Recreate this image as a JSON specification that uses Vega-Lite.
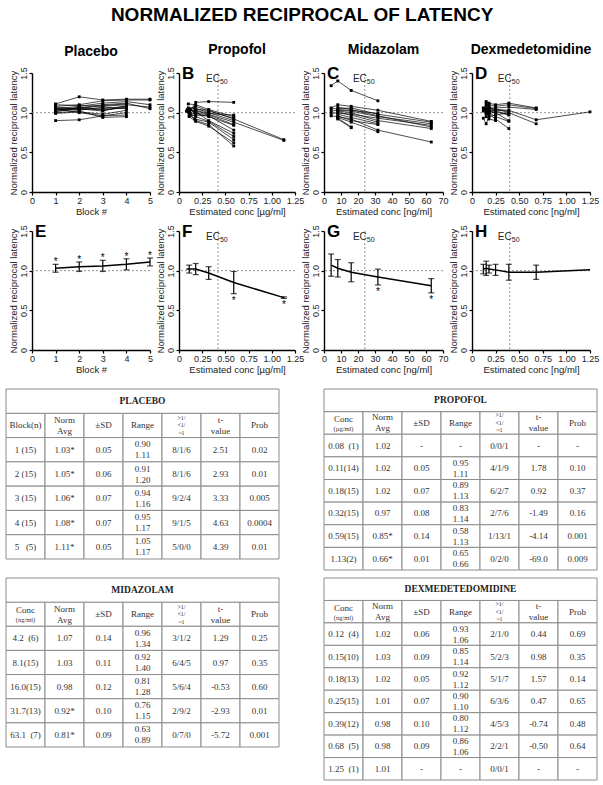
{
"$schema":"https://vega.github.io/schema/vega-lite/v6.json",
"padding":{"left":5,"top":6,"right":4,"bottom":4},
"title":{"text":"NORMALIZED RECIPROCAL OF LATENCY","fontSize":19,"offset":18,"anchor":"middle","frame":"bounds"},
"spacing":14,
"datasets":{
"pla":[
{"s":1,"x":1,"y":0.90},{"s":1,"x":2,"y":0.91},{"s":1,"x":3,"y":0.96},{"s":1,"x":4,"y":0.97},
{"s":2,"x":1,"y":1.11},{"s":2,"x":2,"y":1.20},{"s":2,"x":3,"y":1.16},{"s":2,"x":4,"y":1.17},{"s":2,"x":5,"y":1.17},
{"s":3,"x":1,"y":1.08},{"s":3,"x":2,"y":1.10},{"s":3,"x":3,"y":1.15},{"s":3,"x":4,"y":1.16},{"s":3,"x":5,"y":1.16},
{"s":4,"x":1,"y":1.05},{"s":4,"x":2,"y":1.08},{"s":4,"x":3,"y":1.12},{"s":4,"x":4,"y":1.14},{"s":4,"x":5,"y":1.10},
{"s":5,"x":1,"y":1.03},{"s":5,"x":2,"y":1.06},{"s":5,"x":3,"y":1.10},{"s":5,"x":4,"y":1.12},{"s":5,"x":5,"y":1.05},
{"s":6,"x":1,"y":1.10},{"s":6,"x":2,"y":1.09},{"s":6,"x":3,"y":1.08},{"s":6,"x":4,"y":1.10},{"s":6,"x":5,"y":1.07},
{"s":7,"x":1,"y":1.02},{"s":7,"x":2,"y":1.04},{"s":7,"x":3,"y":1.05},{"s":7,"x":4,"y":1.08},
{"s":8,"x":1,"y":1.00},{"s":8,"x":2,"y":1.02},{"s":8,"x":3,"y":0.94},{"s":8,"x":4,"y":0.95},
{"s":9,"x":1,"y":1.06},{"s":9,"x":2,"y":1.03},{"s":9,"x":3,"y":1.07},{"s":9,"x":4,"y":1.05},
{"s":10,"x":1,"y":1.04},{"s":10,"x":2,"y":1.05},{"s":10,"x":3,"y":1.02},{"s":10,"x":4,"y":1.09},
{"s":11,"x":1,"y":1.01},{"s":11,"x":2,"y":1.07},{"s":11,"x":3,"y":1.04},{"s":11,"x":4,"y":1.06},
{"s":12,"x":1,"y":0.99},{"s":12,"x":2,"y":1.01},{"s":12,"x":3,"y":0.98},{"s":12,"x":4,"y":1.03},
{"s":13,"x":1,"y":1.07},{"s":13,"x":2,"y":1.05},{"s":13,"x":3,"y":1.09},{"s":13,"x":4,"y":1.11},
{"s":14,"x":1,"y":1.05},{"s":14,"x":2,"y":1.00},{"s":14,"x":3,"y":0.96},{"s":14,"x":4,"y":1.00},
{"s":15,"x":1,"y":1.04},{"s":15,"x":2,"y":1.06},{"s":15,"x":3,"y":1.03},{"s":15,"x":4,"y":1.07}
],
"pro":[
{"s":1,"x":0.11,"y":1.00},{"s":1,"x":0.18,"y":1.13},{"s":1,"x":0.32,"y":1.14},{"s":1,"x":0.59,"y":1.13},
{"s":2,"x":0.10,"y":1.11},{"s":2,"x":0.18,"y":1.10},{"s":2,"x":0.32,"y":1.04},{"s":2,"x":0.59,"y":0.95},
{"s":3,"x":0.12,"y":1.05},{"s":3,"x":0.18,"y":1.08},{"s":3,"x":0.32,"y":1.02},{"s":3,"x":0.59,"y":0.93},
{"s":4,"x":0.11,"y":1.03},{"s":4,"x":0.17,"y":1.06},{"s":4,"x":0.32,"y":1.00},{"s":4,"x":0.59,"y":0.90},
{"s":5,"x":0.09,"y":1.02},{"s":5,"x":0.18,"y":1.04},{"s":5,"x":0.32,"y":1.03},{"s":5,"x":0.59,"y":0.92},{"s":5,"x":1.13,"y":0.66},
{"s":6,"x":0.11,"y":1.00},{"s":6,"x":0.18,"y":1.02},{"s":6,"x":0.32,"y":0.98},{"s":6,"x":0.59,"y":0.88},{"s":6,"x":1.13,"y":0.65},
{"s":7,"x":0.12,"y":0.98},{"s":7,"x":0.17,"y":1.00},{"s":7,"x":0.32,"y":0.97},{"s":7,"x":0.59,"y":0.85},
{"s":8,"x":0.10,"y":1.06},{"s":8,"x":0.18,"y":0.99},{"s":8,"x":0.32,"y":0.95},{"s":8,"x":0.59,"y":0.84},
{"s":9,"x":0.11,"y":0.96},{"s":9,"x":0.18,"y":0.97},{"s":9,"x":0.32,"y":0.96},{"s":9,"x":0.59,"y":0.78},
{"s":10,"x":0.09,"y":1.04},{"s":10,"x":0.18,"y":1.01},{"s":10,"x":0.32,"y":0.90},{"s":10,"x":0.59,"y":0.74},
{"s":11,"x":0.12,"y":0.99},{"s":11,"x":0.18,"y":0.95},{"s":11,"x":0.32,"y":0.89},{"s":11,"x":0.59,"y":0.70},
{"s":12,"x":0.11,"y":0.97},{"s":12,"x":0.17,"y":0.92},{"s":12,"x":0.32,"y":0.88},{"s":12,"x":0.59,"y":0.66},
{"s":13,"x":0.10,"y":1.01},{"s":13,"x":0.18,"y":0.90},{"s":13,"x":0.32,"y":0.85},{"s":13,"x":0.59,"y":0.58},
{"s":14,"x":0.11,"y":0.95},{"s":14,"x":0.18,"y":0.89},{"s":14,"x":0.32,"y":0.83},{"s":14,"x":0.59,"y":0.62},
{"s":15,"x":0.08,"y":1.02},{"s":15,"x":0.18,"y":1.03},{"s":15,"x":0.32,"y":0.99},{"s":15,"x":0.59,"y":0.97}
],
"mid":[
{"s":1,"x":4.2,"y":1.34},{"s":1,"x":8.1,"y":1.40},{"s":1,"x":16.0,"y":1.28},{"s":1,"x":31.7,"y":1.15},
{"s":2,"x":4.2,"y":1.06},{"s":2,"x":8.1,"y":1.10},{"s":2,"x":16.0,"y":1.08},{"s":2,"x":31.7,"y":1.03},{"s":2,"x":63.1,"y":0.89},
{"s":3,"x":4.2,"y":1.05},{"s":3,"x":8.1,"y":1.05},{"s":3,"x":16.0,"y":1.06},{"s":3,"x":31.7,"y":0.98},{"s":3,"x":63.1,"y":0.88},
{"s":4,"x":4.2,"y":1.02},{"s":4,"x":8.1,"y":1.03},{"s":4,"x":16.0,"y":1.02},{"s":4,"x":31.7,"y":0.95},{"s":4,"x":63.1,"y":0.86},
{"s":5,"x":4.2,"y":0.99},{"s":5,"x":8.1,"y":1.00},{"s":5,"x":16.0,"y":0.98},{"s":5,"x":31.7,"y":0.93},{"s":5,"x":63.1,"y":0.84},
{"s":6,"x":4.2,"y":0.96},{"s":6,"x":8.1,"y":0.95},{"s":6,"x":16.0,"y":0.92},{"s":6,"x":31.7,"y":0.78},{"s":6,"x":63.1,"y":0.63},
{"s":7,"x":8.1,"y":1.07},{"s":7,"x":16.0,"y":1.04},{"s":7,"x":31.7,"y":0.96},{"s":7,"x":63.1,"y":0.82},
{"s":8,"x":8.1,"y":1.02},{"s":8,"x":16.0,"y":1.00},{"s":8,"x":31.7,"y":0.90},{"s":8,"x":63.1,"y":0.80},
{"s":9,"x":8.1,"y":1.00},{"s":9,"x":16.0,"y":0.97},{"s":9,"x":31.7,"y":0.88},
{"s":10,"x":8.1,"y":0.98},{"s":10,"x":16.0,"y":0.94},{"s":10,"x":31.7,"y":0.86},
{"s":11,"x":8.1,"y":0.96},{"s":11,"x":16.0,"y":0.90},{"s":11,"x":31.7,"y":0.85},
{"s":12,"x":8.1,"y":0.94},{"s":12,"x":16.0,"y":0.88},{"s":12,"x":31.7,"y":0.76},
{"s":13,"x":8.1,"y":0.93},{"s":13,"x":16.0,"y":0.82},
{"s":14,"x":8.1,"y":0.92},{"s":14,"x":16.0,"y":0.81},
{"s":15,"x":8.1,"y":1.04},{"s":15,"x":16.0,"y":1.03},{"s":15,"x":31.7,"y":0.99}
],
"dex":[
{"s":1,"x":0.15,"y":1.14},{"s":1,"x":0.18,"y":1.12},{"s":1,"x":0.25,"y":1.10},{"s":1,"x":0.39,"y":1.12},{"s":1,"x":0.68,"y":1.06},
{"s":2,"x":0.15,"y":1.08},{"s":2,"x":0.18,"y":1.10},{"s":2,"x":0.25,"y":1.08},{"s":2,"x":0.39,"y":1.10},{"s":2,"x":0.68,"y":1.05},
{"s":3,"x":0.18,"y":1.05},{"s":3,"x":0.25,"y":1.06},{"s":3,"x":0.39,"y":1.07},{"s":3,"x":0.68,"y":1.04},
{"s":4,"x":0.15,"y":1.02},{"s":4,"x":0.18,"y":1.03},{"s":4,"x":0.25,"y":1.04},{"s":4,"x":0.39,"y":1.03},{"s":4,"x":0.68,"y":0.91},{"s":4,"x":1.25,"y":1.01},
{"s":5,"x":0.12,"y":0.93},{"s":5,"x":0.15,"y":0.86},{"s":5,"x":0.18,"y":0.95},{"s":5,"x":0.25,"y":0.97},{"s":5,"x":0.39,"y":1.00},{"s":5,"x":0.68,"y":0.86},
{"s":6,"x":0.12,"y":1.06},{"s":6,"x":0.15,"y":1.05},{"s":6,"x":0.18,"y":1.00},{"s":6,"x":0.25,"y":0.95},{"s":6,"x":0.39,"y":0.89},
{"s":7,"x":0.12,"y":1.05},{"s":7,"x":0.15,"y":1.00},{"s":7,"x":0.18,"y":0.98},{"s":7,"x":0.25,"y":0.92},{"s":7,"x":0.39,"y":0.80},
{"s":8,"x":0.12,"y":1.02},{"s":8,"x":0.15,"y":1.10},{"s":8,"x":0.18,"y":1.02},{"s":8,"x":0.25,"y":1.00},{"s":8,"x":0.39,"y":0.90},
{"s":9,"x":0.15,"y":0.95},{"s":9,"x":0.18,"y":0.92},{"s":9,"x":0.25,"y":0.90},
{"s":10,"x":0.15,"y":0.98},{"s":10,"x":0.18,"y":1.04},{"s":10,"x":0.25,"y":1.02},{"s":10,"x":0.39,"y":0.98},
{"s":11,"x":0.15,"y":1.12},{"s":11,"x":0.18,"y":1.07},{"s":11,"x":0.25,"y":1.05},{"s":11,"x":0.39,"y":1.00},
{"s":12,"x":0.18,"y":1.01},{"s":12,"x":0.25,"y":1.03},{"s":12,"x":0.39,"y":1.02},
{"s":13,"x":0.15,"y":1.00},{"s":13,"x":0.18,"y":0.99},{"s":13,"x":0.25,"y":1.01},{"s":13,"x":0.39,"y":0.97},
{"s":14,"x":0.18,"y":1.08},{"s":14,"x":0.25,"y":1.00},
{"s":15,"x":0.25,"y":0.99}
],
"plaM":[
{"x":1,"m":1.03,"lo":0.98,"hi":1.08,"star":"*"},
{"x":2,"m":1.05,"lo":0.99,"hi":1.11,"star":"*"},
{"x":3,"m":1.06,"lo":0.99,"hi":1.13,"star":"*"},
{"x":4,"m":1.08,"lo":1.01,"hi":1.15,"star":"*"},
{"x":5,"m":1.11,"lo":1.06,"hi":1.16,"star":"*"}
],
"proM":[
{"x":0.08,"m":1.02,"lo":null,"hi":null,"star":""},
{"x":0.11,"m":1.02,"lo":0.97,"hi":1.07,"star":""},
{"x":0.18,"m":1.02,"lo":0.95,"hi":1.09,"star":""},
{"x":0.32,"m":0.97,"lo":0.89,"hi":1.05,"star":""},
{"x":0.59,"m":0.85,"lo":0.71,"hi":0.99,"star":"*"},
{"x":1.13,"m":0.66,"lo":0.65,"hi":0.67,"star":"*"}
],
"midM":[
{"x":4.2,"m":1.07,"lo":0.93,"hi":1.21,"star":""},
{"x":8.1,"m":1.03,"lo":0.92,"hi":1.14,"star":""},
{"x":16.0,"m":0.98,"lo":0.86,"hi":1.10,"star":""},
{"x":31.7,"m":0.92,"lo":0.82,"hi":1.02,"star":"*"},
{"x":63.1,"m":0.81,"lo":0.72,"hi":0.90,"star":"*"}
],
"dexM":[
{"x":0.12,"m":1.02,"lo":0.96,"hi":1.08,"star":""},
{"x":0.15,"m":1.03,"lo":0.94,"hi":1.12,"star":""},
{"x":0.18,"m":1.02,"lo":0.97,"hi":1.07,"star":""},
{"x":0.25,"m":1.01,"lo":0.94,"hi":1.08,"star":""},
{"x":0.39,"m":0.98,"lo":0.88,"hi":1.08,"star":""},
{"x":0.68,"m":0.98,"lo":0.89,"hi":1.07,"star":""},
{"x":1.25,"m":1.01,"lo":null,"hi":null,"star":""}
],
"tPla":[
{"r":0,"c1":"PLACEBO"},
{"r":1,"c1":"Block(n)","c2":"Norm\nAvg","c3":"±SD","c4":"Range","c5":">1/\n<1/\n~1","c6":"t-\nvalue","c7":"Prob","u":""},
{"r":2,"c1":"1 (15)","c2":"1.03*","c3":"0.05","c4":"0.90\n1.11","c5":"8/1/6","c6":"2.51","c7":"0.02"},
{"r":3,"c1":"2 (15)","c2":"1.05*","c3":"0.06","c4":"0.91\n1.20","c5":"8/1/6","c6":"2.93","c7":"0.01"},
{"r":4,"c1":"3 (15)","c2":"1.06*","c3":"0.07","c4":"0.94\n1.16","c5":"9/2/4","c6":"3.33","c7":"0.005"},
{"r":5,"c1":"4 (15)","c2":"1.08*","c3":"0.07","c4":"0.95\n1.17","c5":"9/1/5","c6":"4.63","c7":"0.0004"},
{"r":6,"c1":"5\u00a0\u00a0\u00a0(5)","c2":"1.11*","c3":"0.05","c4":"1.05\n1.17","c5":"5/0/0","c6":"4.39","c7":"0.01"}
],
"tPro":[
{"r":0,"c1":"PROPOFOL"},
{"r":1,"c1":"Conc","c2":"Norm\nAvg","c3":"±SD","c4":"Range","c5":">1/\n<1/\n~1","c6":"t-\nvalue","c7":"Prob","u":"(µg/ml)"},
{"r":2,"c1":"0.08\u00a0\u00a0(1)","c2":"1.02","c3":"-","c4":"-","c5":"0/0/1","c6":"-","c7":"-"},
{"r":3,"c1":"0.11(14)","c2":"1.02","c3":"0.05","c4":"0.95\n1.11","c5":"4/1/9","c6":"1.78","c7":"0.10"},
{"r":4,"c1":"0.18(15)","c2":"1.02","c3":"0.07","c4":"0.89\n1.13","c5":"6/2/7","c6":"0.92","c7":"0.37"},
{"r":5,"c1":"0.32(15)","c2":"0.97","c3":"0.08","c4":"0.83\n1.14","c5":"2/7/6","c6":"-1.49","c7":"0.16"},
{"r":6,"c1":"0.59(15)","c2":"0.85*","c3":"0.14","c4":"0.58\n1.13","c5":"1/13/1","c6":"-4.14","c7":"0.001"},
{"r":7,"c1":"1.13(2)","c2":"0.66*","c3":"0.01","c4":"0.65\n0.66","c5":"0/2/0","c6":"-69.0","c7":"0.009"}
],
"tMid":[
{"r":0,"c1":"MIDAZOLAM"},
{"r":1,"c1":"Conc","c2":"Norm\nAvg","c3":"±SD","c4":"Range","c5":">1/\n<1/\n~1","c6":"t-\nvalue","c7":"Prob","u":"(ng/ml)"},
{"r":2,"c1":"4.2\u00a0\u00a0(6)","c2":"1.07","c3":"0.14","c4":"0.96\n1.34","c5":"3/1/2","c6":"1.29","c7":"0.25"},
{"r":3,"c1":"8.1(15)","c2":"1.03","c3":"0.11","c4":"0.92\n1.40","c5":"6/4/5","c6":"0.97","c7":"0.35"},
{"r":4,"c1":"16.0(15)","c2":"0.98","c3":"0.12","c4":"0.81\n1.28","c5":"5/6/4","c6":"-0.53","c7":"0.60"},
{"r":5,"c1":"31.7(13)","c2":"0.92*","c3":"0.10","c4":"0.76\n1.15","c5":"2/9/2","c6":"-2.93","c7":"0.01"},
{"r":6,"c1":"63.1\u00a0\u00a0(7)","c2":"0.81*","c3":"0.09","c4":"0.63\n0.89","c5":"0/7/0","c6":"-5.72","c7":"0.001"}
],
"tDex":[
{"r":0,"c1":"DEXMEDETEDOMIDINE"},
{"r":1,"c1":"Conc","c2":"Norm\nAvg","c3":"±SD","c4":"Range","c5":">1/\n<1/\n~1","c6":"t-\nvalue","c7":"Prob","u":"(ng/ml)"},
{"r":2,"c1":"0.12\u00a0\u00a0(4)","c2":"1.02","c3":"0.06","c4":"0.93\n1.06","c5":"2/1/0","c6":"0.44","c7":"0.69"},
{"r":3,"c1":"0.15(10)","c2":"1.03","c3":"0.09","c4":"0.85\n1.14","c5":"5/2/3","c6":"0.98","c7":"0.35"},
{"r":4,"c1":"0.18(13)","c2":"1.02","c3":"0.05","c4":"0.92\n1.12","c5":"5/1/7","c6":"1.57","c7":"0.14"},
{"r":5,"c1":"0.25(15)","c2":"1.01","c3":"0.07","c4":"0.90\n1.10","c5":"6/3/6","c6":"0.47","c7":"0.65"},
{"r":6,"c1":"0.39(12)","c2":"0.98","c3":"0.10","c4":"0.80\n1.12","c5":"4/5/3","c6":"-0.74","c7":"0.48"},
{"r":7,"c1":"0.68\u00a0\u00a0(5)","c2":"0.98","c3":"0.09","c4":"0.86\n1.06","c5":"2/2/1","c6":"-0.50","c7":"0.64"},
{"r":8,"c1":"1.25\u00a0\u00a0(1)","c2":"1.01","c3":"-","c4":"-","c5":"0/0/1","c6":"-","c7":"-"}
]
},
"vconcat":[
{"spacing":0,"hconcat":[
{"width":1,"height":1,"data":{"values":[]},"mark":"point"},
{"columns":4,"bounds":"flush","spacing":{"row":39,"column":29},"concat":[
{"title":"Placebo","width":118,"height":119,"layer":[
{"data":{"values":[{}]},"mark":{"type":"rule","strokeDash":[2,2],"color":"#777","strokeWidth":0.8},"encoding":{"y":{"datum":1,"type":"quantitative","scale":{"domain":[0,1.5]},"axis":{"values":[0,0.5,1,1.5],"tickCount":10,"labelOverlap":false,"labelFlush":false,"labelAngle":-90,"labelExpr":"datum.value == 0 ? '0' : format(datum.value, '.1f')"}}}},
{"data":{"name":"pla"},"mark":{"type":"line","color":"black","strokeWidth":0.7},"encoding":{"x":{"field":"x","type":"quantitative","scale":{"domain":[0,5],"nice":false},"title":"Block #","axis":{"values":[0,1,2,3,4,5],"tickCount":10,"format":"d","labelOverlap":false,"labelFlush":false}},"y":{"field":"y","type":"quantitative","scale":{"domain":[0,1.5]},"title":"Normalized reciprocal latency","axis":{"values":[0,0.5,1,1.5],"tickCount":10,"labelOverlap":false,"labelFlush":false,"labelAngle":-90,"labelExpr":"datum.value == 0 ? '0' : format(datum.value, '.1f')"}},"detail":{"field":"s","type":"nominal"}}},
{"data":{"name":"pla"},"mark":{"type":"square","size":8,"color":"black","opacity":1},"encoding":{"x":{"field":"x","type":"quantitative","scale":{"domain":[0,5],"nice":false},"title":"Block #","axis":{"values":[0,1,2,3,4,5],"tickCount":10,"format":"d","labelOverlap":false,"labelFlush":false}},"y":{"field":"y","type":"quantitative","scale":{"domain":[0,1.5]},"title":"Normalized reciprocal latency","axis":{"values":[0,0.5,1,1.5],"tickCount":10,"labelOverlap":false,"labelFlush":false,"labelAngle":-90,"labelExpr":"datum.value == 0 ? '0' : format(datum.value, '.1f')"}}}}
]},
{"title":"Propofol","width":116,"height":119,"layer":[
{"data":{"values":[{}]},"mark":{"type":"rule","strokeDash":[2,2],"color":"#777","strokeWidth":0.8},"encoding":{"y":{"datum":1,"type":"quantitative","scale":{"domain":[0,1.5]},"axis":{"values":[0,0.5,1,1.5],"tickCount":10,"labelOverlap":false,"labelFlush":false,"labelAngle":-90,"labelExpr":"datum.value == 0 ? '0' : format(datum.value, '.1f')"}}}},
{"data":{"values":[{}]},"mark":{"type":"rule","strokeDash":[2,2],"color":"#777","strokeWidth":0.8},"encoding":{"x":{"datum":0.42,"type":"quantitative","scale":{"domain":[0,1.25],"nice":false},"axis":{"values":[0,0.25,0.5,0.75,1,1.25],"tickCount":10,"labelOverlap":false,"labelFlush":false,"labelExpr":"datum.value == 0 ? '0' : format(datum.value, '.2f')"}}}},
{"data":{"name":"pro"},"mark":{"type":"line","color":"black","strokeWidth":0.7},"encoding":{"x":{"field":"x","type":"quantitative","scale":{"domain":[0,1.25],"nice":false},"title":"Estimated conc [µg/ml]","axis":{"values":[0,0.25,0.5,0.75,1,1.25],"tickCount":10,"labelOverlap":false,"labelFlush":false,"labelExpr":"datum.value == 0 ? '0' : format(datum.value, '.2f')"}},"y":{"field":"y","type":"quantitative","scale":{"domain":[0,1.5]},"title":"Normalized reciprocal latency","axis":{"values":[0,0.5,1,1.5],"tickCount":10,"labelOverlap":false,"labelFlush":false,"labelAngle":-90,"labelExpr":"datum.value == 0 ? '0' : format(datum.value, '.1f')"}},"detail":{"field":"s","type":"nominal"}}},
{"data":{"name":"pro"},"mark":{"type":"square","size":8,"color":"black","opacity":1},"encoding":{"x":{"field":"x","type":"quantitative","scale":{"domain":[0,1.25],"nice":false},"title":"Estimated conc [µg/ml]","axis":{"values":[0,0.25,0.5,0.75,1,1.25],"tickCount":10,"labelOverlap":false,"labelFlush":false,"labelExpr":"datum.value == 0 ? '0' : format(datum.value, '.2f')"}},"y":{"field":"y","type":"quantitative","scale":{"domain":[0,1.5]},"title":"Normalized reciprocal latency","axis":{"values":[0,0.5,1,1.5],"tickCount":10,"labelOverlap":false,"labelFlush":false,"labelAngle":-90,"labelExpr":"datum.value == 0 ? '0' : format(datum.value, '.1f')"}}}},
{"data":{"values":[{"t":"B"}]},"mark":{"type":"text","fontSize":17,"fontWeight":"bold","align":"left","baseline":"middle","dx":3,"dy":1,"color":"black"},"encoding":{"text":{"field":"t"},"x":{"datum":0,"type":"quantitative","scale":{"domain":[0,1.25],"nice":false},"axis":{"values":[0,0.25,0.5,0.75,1,1.25],"tickCount":10,"labelOverlap":false,"labelFlush":false,"labelExpr":"datum.value == 0 ? '0' : format(datum.value, '.2f')"}},"y":{"datum":1.5,"type":"quantitative","scale":{"domain":[0,1.5]},"axis":{"values":[0,0.5,1,1.5],"tickCount":10,"labelOverlap":false,"labelFlush":false,"labelAngle":-90,"labelExpr":"datum.value == 0 ? '0' : format(datum.value, '.1f')"}}}},
{"data":{"values":[{"t":"EC"}]},"mark":{"type":"text","fontSize":10,"align":"right","baseline":"middle","dx":2,"dy":6,"color":"#222"},"encoding":{"text":{"field":"t"},"x":{"datum":0.42,"type":"quantitative","scale":{"domain":[0,1.25],"nice":false},"axis":{"values":[0,0.25,0.5,0.75,1,1.25],"tickCount":10,"labelOverlap":false,"labelFlush":false,"labelExpr":"datum.value == 0 ? '0' : format(datum.value, '.2f')"}},"y":{"datum":1.5,"type":"quantitative","scale":{"domain":[0,1.5]},"axis":{"values":[0,0.5,1,1.5],"tickCount":10,"labelOverlap":false,"labelFlush":false,"labelAngle":-90,"labelExpr":"datum.value == 0 ? '0' : format(datum.value, '.1f')"}}}},
{"data":{"values":[{"t":"50"}]},"mark":{"type":"text","fontSize":7,"align":"left","baseline":"middle","dx":2,"dy":9,"color":"#222"},"encoding":{"text":{"field":"t"},"x":{"datum":0.42,"type":"quantitative","scale":{"domain":[0,1.25],"nice":false},"axis":{"values":[0,0.25,0.5,0.75,1,1.25],"tickCount":10,"labelOverlap":false,"labelFlush":false,"labelExpr":"datum.value == 0 ? '0' : format(datum.value, '.2f')"}},"y":{"datum":1.5,"type":"quantitative","scale":{"domain":[0,1.5]},"axis":{"values":[0,0.5,1,1.5],"tickCount":10,"labelOverlap":false,"labelFlush":false,"labelAngle":-90,"labelExpr":"datum.value == 0 ? '0' : format(datum.value, '.1f')"}}}}
]},
{"title":"Midazolam","width":119,"height":119,"layer":[
{"data":{"values":[{}]},"mark":{"type":"rule","strokeDash":[2,2],"color":"#777","strokeWidth":0.8},"encoding":{"y":{"datum":1,"type":"quantitative","scale":{"domain":[0,1.5]},"axis":{"values":[0,0.5,1,1.5],"tickCount":10,"labelOverlap":false,"labelFlush":false,"labelAngle":-90,"labelExpr":"datum.value == 0 ? '0' : format(datum.value, '.1f')"}}}},
{"data":{"values":[{}]},"mark":{"type":"rule","strokeDash":[2,2],"color":"#777","strokeWidth":0.8},"encoding":{"x":{"datum":24,"type":"quantitative","scale":{"domain":[0,70],"nice":false},"axis":{"values":[0,10,20,30,40,50,60,70],"tickCount":10,"format":"d","labelOverlap":false,"labelFlush":false}}}},
{"data":{"name":"mid"},"mark":{"type":"line","color":"black","strokeWidth":0.7},"encoding":{"x":{"field":"x","type":"quantitative","scale":{"domain":[0,70],"nice":false},"title":"Estimated conc [ng/ml]","axis":{"values":[0,10,20,30,40,50,60,70],"tickCount":10,"format":"d","labelOverlap":false,"labelFlush":false}},"y":{"field":"y","type":"quantitative","scale":{"domain":[0,1.5]},"title":"Normalized reciprocal latency","axis":{"values":[0,0.5,1,1.5],"tickCount":10,"labelOverlap":false,"labelFlush":false,"labelAngle":-90,"labelExpr":"datum.value == 0 ? '0' : format(datum.value, '.1f')"}},"detail":{"field":"s","type":"nominal"}}},
{"data":{"name":"mid"},"mark":{"type":"square","size":8,"color":"black","opacity":1},"encoding":{"x":{"field":"x","type":"quantitative","scale":{"domain":[0,70],"nice":false},"title":"Estimated conc [ng/ml]","axis":{"values":[0,10,20,30,40,50,60,70],"tickCount":10,"format":"d","labelOverlap":false,"labelFlush":false}},"y":{"field":"y","type":"quantitative","scale":{"domain":[0,1.5]},"title":"Normalized reciprocal latency","axis":{"values":[0,0.5,1,1.5],"tickCount":10,"labelOverlap":false,"labelFlush":false,"labelAngle":-90,"labelExpr":"datum.value == 0 ? '0' : format(datum.value, '.1f')"}}}},
{"data":{"values":[{"t":"C"}]},"mark":{"type":"text","fontSize":17,"fontWeight":"bold","align":"left","baseline":"middle","dx":3,"dy":1,"color":"black"},"encoding":{"text":{"field":"t"},"x":{"datum":0,"type":"quantitative","scale":{"domain":[0,70],"nice":false},"axis":{"values":[0,10,20,30,40,50,60,70],"tickCount":10,"format":"d","labelOverlap":false,"labelFlush":false}},"y":{"datum":1.5,"type":"quantitative","scale":{"domain":[0,1.5]},"axis":{"values":[0,0.5,1,1.5],"tickCount":10,"labelOverlap":false,"labelFlush":false,"labelAngle":-90,"labelExpr":"datum.value == 0 ? '0' : format(datum.value, '.1f')"}}}},
{"data":{"values":[{"t":"EC"}]},"mark":{"type":"text","fontSize":10,"align":"right","baseline":"middle","dx":2,"dy":6,"color":"#222"},"encoding":{"text":{"field":"t"},"x":{"datum":24,"type":"quantitative","scale":{"domain":[0,70],"nice":false},"axis":{"values":[0,10,20,30,40,50,60,70],"tickCount":10,"format":"d","labelOverlap":false,"labelFlush":false}},"y":{"datum":1.5,"type":"quantitative","scale":{"domain":[0,1.5]},"axis":{"values":[0,0.5,1,1.5],"tickCount":10,"labelOverlap":false,"labelFlush":false,"labelAngle":-90,"labelExpr":"datum.value == 0 ? '0' : format(datum.value, '.1f')"}}}},
{"data":{"values":[{"t":"50"}]},"mark":{"type":"text","fontSize":7,"align":"left","baseline":"middle","dx":2,"dy":9,"color":"#222"},"encoding":{"text":{"field":"t"},"x":{"datum":24,"type":"quantitative","scale":{"domain":[0,70],"nice":false},"axis":{"values":[0,10,20,30,40,50,60,70],"tickCount":10,"format":"d","labelOverlap":false,"labelFlush":false}},"y":{"datum":1.5,"type":"quantitative","scale":{"domain":[0,1.5]},"axis":{"values":[0,0.5,1,1.5],"tickCount":10,"labelOverlap":false,"labelFlush":false,"labelAngle":-90,"labelExpr":"datum.value == 0 ? '0' : format(datum.value, '.1f')"}}}}
]},
{"title":"Dexmedetomidine","width":118,"height":119,"layer":[
{"data":{"values":[{}]},"mark":{"type":"rule","strokeDash":[2,2],"color":"#777","strokeWidth":0.8},"encoding":{"y":{"datum":1,"type":"quantitative","scale":{"domain":[0,1.5]},"axis":{"values":[0,0.5,1,1.5],"tickCount":10,"labelOverlap":false,"labelFlush":false,"labelAngle":-90,"labelExpr":"datum.value == 0 ? '0' : format(datum.value, '.1f')"}}}},
{"data":{"values":[{}]},"mark":{"type":"rule","strokeDash":[2,2],"color":"#777","strokeWidth":0.8},"encoding":{"x":{"datum":0.4,"type":"quantitative","scale":{"domain":[0,1.25],"nice":false},"axis":{"values":[0,0.25,0.5,0.75,1,1.25],"tickCount":10,"labelOverlap":false,"labelFlush":false,"labelExpr":"datum.value == 0 ? '0' : format(datum.value, '.2f')"}}}},
{"data":{"name":"dex"},"mark":{"type":"line","color":"black","strokeWidth":0.7},"encoding":{"x":{"field":"x","type":"quantitative","scale":{"domain":[0,1.25],"nice":false},"title":"Estimated conc [ng/ml]","axis":{"values":[0,0.25,0.5,0.75,1,1.25],"tickCount":10,"labelOverlap":false,"labelFlush":false,"labelExpr":"datum.value == 0 ? '0' : format(datum.value, '.2f')"}},"y":{"field":"y","type":"quantitative","scale":{"domain":[0,1.5]},"title":"Normalized reciprocal latency","axis":{"values":[0,0.5,1,1.5],"tickCount":10,"labelOverlap":false,"labelFlush":false,"labelAngle":-90,"labelExpr":"datum.value == 0 ? '0' : format(datum.value, '.1f')"}},"detail":{"field":"s","type":"nominal"}}},
{"data":{"name":"dex"},"mark":{"type":"square","size":8,"color":"black","opacity":1},"encoding":{"x":{"field":"x","type":"quantitative","scale":{"domain":[0,1.25],"nice":false},"title":"Estimated conc [ng/ml]","axis":{"values":[0,0.25,0.5,0.75,1,1.25],"tickCount":10,"labelOverlap":false,"labelFlush":false,"labelExpr":"datum.value == 0 ? '0' : format(datum.value, '.2f')"}},"y":{"field":"y","type":"quantitative","scale":{"domain":[0,1.5]},"title":"Normalized reciprocal latency","axis":{"values":[0,0.5,1,1.5],"tickCount":10,"labelOverlap":false,"labelFlush":false,"labelAngle":-90,"labelExpr":"datum.value == 0 ? '0' : format(datum.value, '.1f')"}}}},
{"data":{"values":[{"t":"D"}]},"mark":{"type":"text","fontSize":17,"fontWeight":"bold","align":"left","baseline":"middle","dx":3,"dy":1,"color":"black"},"encoding":{"text":{"field":"t"},"x":{"datum":0,"type":"quantitative","scale":{"domain":[0,1.25],"nice":false},"axis":{"values":[0,0.25,0.5,0.75,1,1.25],"tickCount":10,"labelOverlap":false,"labelFlush":false,"labelExpr":"datum.value == 0 ? '0' : format(datum.value, '.2f')"}},"y":{"datum":1.5,"type":"quantitative","scale":{"domain":[0,1.5]},"axis":{"values":[0,0.5,1,1.5],"tickCount":10,"labelOverlap":false,"labelFlush":false,"labelAngle":-90,"labelExpr":"datum.value == 0 ? '0' : format(datum.value, '.1f')"}}}},
{"data":{"values":[{"t":"EC"}]},"mark":{"type":"text","fontSize":10,"align":"right","baseline":"middle","dx":2,"dy":6,"color":"#222"},"encoding":{"text":{"field":"t"},"x":{"datum":0.4,"type":"quantitative","scale":{"domain":[0,1.25],"nice":false},"axis":{"values":[0,0.25,0.5,0.75,1,1.25],"tickCount":10,"labelOverlap":false,"labelFlush":false,"labelExpr":"datum.value == 0 ? '0' : format(datum.value, '.2f')"}},"y":{"datum":1.5,"type":"quantitative","scale":{"domain":[0,1.5]},"axis":{"values":[0,0.5,1,1.5],"tickCount":10,"labelOverlap":false,"labelFlush":false,"labelAngle":-90,"labelExpr":"datum.value == 0 ? '0' : format(datum.value, '.1f')"}}}},
{"data":{"values":[{"t":"50"}]},"mark":{"type":"text","fontSize":7,"align":"left","baseline":"middle","dx":2,"dy":9,"color":"#222"},"encoding":{"text":{"field":"t"},"x":{"datum":0.4,"type":"quantitative","scale":{"domain":[0,1.25],"nice":false},"axis":{"values":[0,0.25,0.5,0.75,1,1.25],"tickCount":10,"labelOverlap":false,"labelFlush":false,"labelExpr":"datum.value == 0 ? '0' : format(datum.value, '.2f')"}},"y":{"datum":1.5,"type":"quantitative","scale":{"domain":[0,1.5]},"axis":{"values":[0,0.5,1,1.5],"tickCount":10,"labelOverlap":false,"labelFlush":false,"labelAngle":-90,"labelExpr":"datum.value == 0 ? '0' : format(datum.value, '.1f')"}}}}
]},
{"width":118,"height":119,"layer":[
{"data":{"values":[{}]},"mark":{"type":"rule","strokeDash":[2,2],"color":"#777","strokeWidth":0.8},"encoding":{"y":{"datum":1,"type":"quantitative","scale":{"domain":[0,1.5]},"axis":{"values":[0,0.5,1,1.5],"tickCount":10,"labelOverlap":false,"labelFlush":false,"labelAngle":-90,"labelExpr":"datum.value == 0 ? '0' : format(datum.value, '.1f')"}}}},
{"data":{"name":"plaM"},"mark":{"type":"errorbar","ticks":true,"size":6,"thickness":1.2,"color":"black"},"encoding":{"x":{"field":"x","type":"quantitative","scale":{"domain":[0,5],"nice":false},"title":"Block #","axis":{"values":[0,1,2,3,4,5],"tickCount":10,"format":"d","labelOverlap":false,"labelFlush":false}},"y":{"field":"lo","type":"quantitative","scale":{"domain":[0,1.5]},"title":"Normalized reciprocal latency","axis":{"values":[0,0.5,1,1.5],"tickCount":10,"labelOverlap":false,"labelFlush":false,"labelAngle":-90,"labelExpr":"datum.value == 0 ? '0' : format(datum.value, '.1f')"}},"y2":{"field":"hi"}}},
{"data":{"name":"plaM"},"mark":{"type":"line","color":"black","strokeWidth":1.5},"encoding":{"x":{"field":"x","type":"quantitative","scale":{"domain":[0,5],"nice":false},"title":"Block #","axis":{"values":[0,1,2,3,4,5],"tickCount":10,"format":"d","labelOverlap":false,"labelFlush":false}},"y":{"field":"m","type":"quantitative","scale":{"domain":[0,1.5]},"title":"Normalized reciprocal latency","axis":{"values":[0,0.5,1,1.5],"tickCount":10,"labelOverlap":false,"labelFlush":false,"labelAngle":-90,"labelExpr":"datum.value == 0 ? '0' : format(datum.value, '.1f')"}}}},
{"data":{"name":"plaM"},"mark":{"type":"text","fontSize":10,"baseline":"alphabetic","dy":1,"color":"black"},"encoding":{"text":{"field":"star"},"x":{"field":"x","type":"quantitative","scale":{"domain":[0,5],"nice":false},"title":"Block #","axis":{"values":[0,1,2,3,4,5],"tickCount":10,"format":"d","labelOverlap":false,"labelFlush":false}},"y":{"field":"hi","type":"quantitative","scale":{"domain":[0,1.5]},"title":"Normalized reciprocal latency","axis":{"values":[0,0.5,1,1.5],"tickCount":10,"labelOverlap":false,"labelFlush":false,"labelAngle":-90,"labelExpr":"datum.value == 0 ? '0' : format(datum.value, '.1f')"}}}},
{"data":{"values":[{"t":"E"}]},"mark":{"type":"text","fontSize":17,"fontWeight":"bold","align":"left","baseline":"middle","dx":3,"dy":1,"color":"black"},"encoding":{"text":{"field":"t"},"x":{"datum":0,"type":"quantitative","scale":{"domain":[0,5],"nice":false},"axis":{"values":[0,1,2,3,4,5],"tickCount":10,"format":"d","labelOverlap":false,"labelFlush":false}},"y":{"datum":1.5,"type":"quantitative","scale":{"domain":[0,1.5]},"axis":{"values":[0,0.5,1,1.5],"tickCount":10,"labelOverlap":false,"labelFlush":false,"labelAngle":-90,"labelExpr":"datum.value == 0 ? '0' : format(datum.value, '.1f')"}}}}
]},
{"width":116,"height":119,"layer":[
{"data":{"values":[{}]},"mark":{"type":"rule","strokeDash":[2,2],"color":"#777","strokeWidth":0.8},"encoding":{"y":{"datum":1,"type":"quantitative","scale":{"domain":[0,1.5]},"axis":{"values":[0,0.5,1,1.5],"tickCount":10,"labelOverlap":false,"labelFlush":false,"labelAngle":-90,"labelExpr":"datum.value == 0 ? '0' : format(datum.value, '.1f')"}}}},
{"data":{"values":[{}]},"mark":{"type":"rule","strokeDash":[2,2],"color":"#777","strokeWidth":0.8},"encoding":{"x":{"datum":0.42,"type":"quantitative","scale":{"domain":[0,1.25],"nice":false},"axis":{"values":[0,0.25,0.5,0.75,1,1.25],"tickCount":10,"labelOverlap":false,"labelFlush":false,"labelExpr":"datum.value == 0 ? '0' : format(datum.value, '.2f')"}}}},
{"data":{"name":"proM"},"transform":[{"filter":"isValid(datum.lo)"}],"mark":{"type":"errorbar","ticks":true,"size":6,"thickness":1.2,"color":"black"},"encoding":{"x":{"field":"x","type":"quantitative","scale":{"domain":[0,1.25],"nice":false},"title":"Estimated conc [µg/ml]","axis":{"values":[0,0.25,0.5,0.75,1,1.25],"tickCount":10,"labelOverlap":false,"labelFlush":false,"labelExpr":"datum.value == 0 ? '0' : format(datum.value, '.2f')"}},"y":{"field":"lo","type":"quantitative","scale":{"domain":[0,1.5]},"title":"Normalized reciprocal latency","axis":{"values":[0,0.5,1,1.5],"tickCount":10,"labelOverlap":false,"labelFlush":false,"labelAngle":-90,"labelExpr":"datum.value == 0 ? '0' : format(datum.value, '.1f')"}},"y2":{"field":"hi"}}},
{"data":{"name":"proM"},"mark":{"type":"line","color":"black","strokeWidth":1.5},"encoding":{"x":{"field":"x","type":"quantitative","scale":{"domain":[0,1.25],"nice":false},"title":"Estimated conc [µg/ml]","axis":{"values":[0,0.25,0.5,0.75,1,1.25],"tickCount":10,"labelOverlap":false,"labelFlush":false,"labelExpr":"datum.value == 0 ? '0' : format(datum.value, '.2f')"}},"y":{"field":"m","type":"quantitative","scale":{"domain":[0,1.5]},"title":"Normalized reciprocal latency","axis":{"values":[0,0.5,1,1.5],"tickCount":10,"labelOverlap":false,"labelFlush":false,"labelAngle":-90,"labelExpr":"datum.value == 0 ? '0' : format(datum.value, '.1f')"}}}},
{"data":{"name":"proM"},"transform":[{"filter":"isValid(datum.lo)"}],"mark":{"type":"text","fontSize":10,"baseline":"top","dy":2,"color":"black"},"encoding":{"text":{"field":"star"},"x":{"field":"x","type":"quantitative","scale":{"domain":[0,1.25],"nice":false},"title":"Estimated conc [µg/ml]","axis":{"values":[0,0.25,0.5,0.75,1,1.25],"tickCount":10,"labelOverlap":false,"labelFlush":false,"labelExpr":"datum.value == 0 ? '0' : format(datum.value, '.2f')"}},"y":{"field":"lo","type":"quantitative","scale":{"domain":[0,1.5]},"title":"Normalized reciprocal latency","axis":{"values":[0,0.5,1,1.5],"tickCount":10,"labelOverlap":false,"labelFlush":false,"labelAngle":-90,"labelExpr":"datum.value == 0 ? '0' : format(datum.value, '.1f')"}}}},
{"data":{"values":[{"t":"F"}]},"mark":{"type":"text","fontSize":17,"fontWeight":"bold","align":"left","baseline":"middle","dx":3,"dy":1,"color":"black"},"encoding":{"text":{"field":"t"},"x":{"datum":0,"type":"quantitative","scale":{"domain":[0,1.25],"nice":false},"axis":{"values":[0,0.25,0.5,0.75,1,1.25],"tickCount":10,"labelOverlap":false,"labelFlush":false,"labelExpr":"datum.value == 0 ? '0' : format(datum.value, '.2f')"}},"y":{"datum":1.5,"type":"quantitative","scale":{"domain":[0,1.5]},"axis":{"values":[0,0.5,1,1.5],"tickCount":10,"labelOverlap":false,"labelFlush":false,"labelAngle":-90,"labelExpr":"datum.value == 0 ? '0' : format(datum.value, '.1f')"}}}},
{"data":{"values":[{"t":"EC"}]},"mark":{"type":"text","fontSize":10,"align":"right","baseline":"middle","dx":2,"dy":6,"color":"#222"},"encoding":{"text":{"field":"t"},"x":{"datum":0.42,"type":"quantitative","scale":{"domain":[0,1.25],"nice":false},"axis":{"values":[0,0.25,0.5,0.75,1,1.25],"tickCount":10,"labelOverlap":false,"labelFlush":false,"labelExpr":"datum.value == 0 ? '0' : format(datum.value, '.2f')"}},"y":{"datum":1.5,"type":"quantitative","scale":{"domain":[0,1.5]},"axis":{"values":[0,0.5,1,1.5],"tickCount":10,"labelOverlap":false,"labelFlush":false,"labelAngle":-90,"labelExpr":"datum.value == 0 ? '0' : format(datum.value, '.1f')"}}}},
{"data":{"values":[{"t":"50"}]},"mark":{"type":"text","fontSize":7,"align":"left","baseline":"middle","dx":2,"dy":9,"color":"#222"},"encoding":{"text":{"field":"t"},"x":{"datum":0.42,"type":"quantitative","scale":{"domain":[0,1.25],"nice":false},"axis":{"values":[0,0.25,0.5,0.75,1,1.25],"tickCount":10,"labelOverlap":false,"labelFlush":false,"labelExpr":"datum.value == 0 ? '0' : format(datum.value, '.2f')"}},"y":{"datum":1.5,"type":"quantitative","scale":{"domain":[0,1.5]},"axis":{"values":[0,0.5,1,1.5],"tickCount":10,"labelOverlap":false,"labelFlush":false,"labelAngle":-90,"labelExpr":"datum.value == 0 ? '0' : format(datum.value, '.1f')"}}}}
]},
{"width":119,"height":119,"layer":[
{"data":{"values":[{}]},"mark":{"type":"rule","strokeDash":[2,2],"color":"#777","strokeWidth":0.8},"encoding":{"y":{"datum":1,"type":"quantitative","scale":{"domain":[0,1.5]},"axis":{"values":[0,0.5,1,1.5],"tickCount":10,"labelOverlap":false,"labelFlush":false,"labelAngle":-90,"labelExpr":"datum.value == 0 ? '0' : format(datum.value, '.1f')"}}}},
{"data":{"values":[{}]},"mark":{"type":"rule","strokeDash":[2,2],"color":"#777","strokeWidth":0.8},"encoding":{"x":{"datum":24,"type":"quantitative","scale":{"domain":[0,70],"nice":false},"axis":{"values":[0,10,20,30,40,50,60,70],"tickCount":10,"format":"d","labelOverlap":false,"labelFlush":false}}}},
{"data":{"name":"midM"},"mark":{"type":"errorbar","ticks":true,"size":6,"thickness":1.2,"color":"black"},"encoding":{"x":{"field":"x","type":"quantitative","scale":{"domain":[0,70],"nice":false},"title":"Estimated conc [ng/ml]","axis":{"values":[0,10,20,30,40,50,60,70],"tickCount":10,"format":"d","labelOverlap":false,"labelFlush":false}},"y":{"field":"lo","type":"quantitative","scale":{"domain":[0,1.5]},"title":"Normalized reciprocal latency","axis":{"values":[0,0.5,1,1.5],"tickCount":10,"labelOverlap":false,"labelFlush":false,"labelAngle":-90,"labelExpr":"datum.value == 0 ? '0' : format(datum.value, '.1f')"}},"y2":{"field":"hi"}}},
{"data":{"name":"midM"},"mark":{"type":"line","color":"black","strokeWidth":1.5},"encoding":{"x":{"field":"x","type":"quantitative","scale":{"domain":[0,70],"nice":false},"title":"Estimated conc [ng/ml]","axis":{"values":[0,10,20,30,40,50,60,70],"tickCount":10,"format":"d","labelOverlap":false,"labelFlush":false}},"y":{"field":"m","type":"quantitative","scale":{"domain":[0,1.5]},"title":"Normalized reciprocal latency","axis":{"values":[0,0.5,1,1.5],"tickCount":10,"labelOverlap":false,"labelFlush":false,"labelAngle":-90,"labelExpr":"datum.value == 0 ? '0' : format(datum.value, '.1f')"}}}},
{"data":{"name":"midM"},"mark":{"type":"text","fontSize":10,"baseline":"top","dy":2,"color":"black"},"encoding":{"text":{"field":"star"},"x":{"field":"x","type":"quantitative","scale":{"domain":[0,70],"nice":false},"title":"Estimated conc [ng/ml]","axis":{"values":[0,10,20,30,40,50,60,70],"tickCount":10,"format":"d","labelOverlap":false,"labelFlush":false}},"y":{"field":"lo","type":"quantitative","scale":{"domain":[0,1.5]},"title":"Normalized reciprocal latency","axis":{"values":[0,0.5,1,1.5],"tickCount":10,"labelOverlap":false,"labelFlush":false,"labelAngle":-90,"labelExpr":"datum.value == 0 ? '0' : format(datum.value, '.1f')"}}}},
{"data":{"values":[{"t":"G"}]},"mark":{"type":"text","fontSize":17,"fontWeight":"bold","align":"left","baseline":"middle","dx":3,"dy":1,"color":"black"},"encoding":{"text":{"field":"t"},"x":{"datum":0,"type":"quantitative","scale":{"domain":[0,70],"nice":false},"axis":{"values":[0,10,20,30,40,50,60,70],"tickCount":10,"format":"d","labelOverlap":false,"labelFlush":false}},"y":{"datum":1.5,"type":"quantitative","scale":{"domain":[0,1.5]},"axis":{"values":[0,0.5,1,1.5],"tickCount":10,"labelOverlap":false,"labelFlush":false,"labelAngle":-90,"labelExpr":"datum.value == 0 ? '0' : format(datum.value, '.1f')"}}}},
{"data":{"values":[{"t":"EC"}]},"mark":{"type":"text","fontSize":10,"align":"right","baseline":"middle","dx":2,"dy":6,"color":"#222"},"encoding":{"text":{"field":"t"},"x":{"datum":24,"type":"quantitative","scale":{"domain":[0,70],"nice":false},"axis":{"values":[0,10,20,30,40,50,60,70],"tickCount":10,"format":"d","labelOverlap":false,"labelFlush":false}},"y":{"datum":1.5,"type":"quantitative","scale":{"domain":[0,1.5]},"axis":{"values":[0,0.5,1,1.5],"tickCount":10,"labelOverlap":false,"labelFlush":false,"labelAngle":-90,"labelExpr":"datum.value == 0 ? '0' : format(datum.value, '.1f')"}}}},
{"data":{"values":[{"t":"50"}]},"mark":{"type":"text","fontSize":7,"align":"left","baseline":"middle","dx":2,"dy":9,"color":"#222"},"encoding":{"text":{"field":"t"},"x":{"datum":24,"type":"quantitative","scale":{"domain":[0,70],"nice":false},"axis":{"values":[0,10,20,30,40,50,60,70],"tickCount":10,"format":"d","labelOverlap":false,"labelFlush":false}},"y":{"datum":1.5,"type":"quantitative","scale":{"domain":[0,1.5]},"axis":{"values":[0,0.5,1,1.5],"tickCount":10,"labelOverlap":false,"labelFlush":false,"labelAngle":-90,"labelExpr":"datum.value == 0 ? '0' : format(datum.value, '.1f')"}}}}
]},
{"width":118,"height":119,"layer":[
{"data":{"values":[{}]},"mark":{"type":"rule","strokeDash":[2,2],"color":"#777","strokeWidth":0.8},"encoding":{"y":{"datum":1,"type":"quantitative","scale":{"domain":[0,1.5]},"axis":{"values":[0,0.5,1,1.5],"tickCount":10,"labelOverlap":false,"labelFlush":false,"labelAngle":-90,"labelExpr":"datum.value == 0 ? '0' : format(datum.value, '.1f')"}}}},
{"data":{"values":[{}]},"mark":{"type":"rule","strokeDash":[2,2],"color":"#777","strokeWidth":0.8},"encoding":{"x":{"datum":0.4,"type":"quantitative","scale":{"domain":[0,1.25],"nice":false},"axis":{"values":[0,0.25,0.5,0.75,1,1.25],"tickCount":10,"labelOverlap":false,"labelFlush":false,"labelExpr":"datum.value == 0 ? '0' : format(datum.value, '.2f')"}}}},
{"data":{"name":"dexM"},"transform":[{"filter":"isValid(datum.lo)"}],"mark":{"type":"errorbar","ticks":true,"size":6,"thickness":1.2,"color":"black"},"encoding":{"x":{"field":"x","type":"quantitative","scale":{"domain":[0,1.25],"nice":false},"title":"Estimated conc [ng/ml]","axis":{"values":[0,0.25,0.5,0.75,1,1.25],"tickCount":10,"labelOverlap":false,"labelFlush":false,"labelExpr":"datum.value == 0 ? '0' : format(datum.value, '.2f')"}},"y":{"field":"lo","type":"quantitative","scale":{"domain":[0,1.5]},"title":"Normalized reciprocal latency","axis":{"values":[0,0.5,1,1.5],"tickCount":10,"labelOverlap":false,"labelFlush":false,"labelAngle":-90,"labelExpr":"datum.value == 0 ? '0' : format(datum.value, '.1f')"}},"y2":{"field":"hi"}}},
{"data":{"name":"dexM"},"mark":{"type":"line","color":"black","strokeWidth":1.5},"encoding":{"x":{"field":"x","type":"quantitative","scale":{"domain":[0,1.25],"nice":false},"title":"Estimated conc [ng/ml]","axis":{"values":[0,0.25,0.5,0.75,1,1.25],"tickCount":10,"labelOverlap":false,"labelFlush":false,"labelExpr":"datum.value == 0 ? '0' : format(datum.value, '.2f')"}},"y":{"field":"m","type":"quantitative","scale":{"domain":[0,1.5]},"title":"Normalized reciprocal latency","axis":{"values":[0,0.5,1,1.5],"tickCount":10,"labelOverlap":false,"labelFlush":false,"labelAngle":-90,"labelExpr":"datum.value == 0 ? '0' : format(datum.value, '.1f')"}}}},
{"data":{"values":[{"t":"H"}]},"mark":{"type":"text","fontSize":17,"fontWeight":"bold","align":"left","baseline":"middle","dx":3,"dy":1,"color":"black"},"encoding":{"text":{"field":"t"},"x":{"datum":0,"type":"quantitative","scale":{"domain":[0,1.25],"nice":false},"axis":{"values":[0,0.25,0.5,0.75,1,1.25],"tickCount":10,"labelOverlap":false,"labelFlush":false,"labelExpr":"datum.value == 0 ? '0' : format(datum.value, '.2f')"}},"y":{"datum":1.5,"type":"quantitative","scale":{"domain":[0,1.5]},"axis":{"values":[0,0.5,1,1.5],"tickCount":10,"labelOverlap":false,"labelFlush":false,"labelAngle":-90,"labelExpr":"datum.value == 0 ? '0' : format(datum.value, '.1f')"}}}},
{"data":{"values":[{"t":"EC"}]},"mark":{"type":"text","fontSize":10,"align":"right","baseline":"middle","dx":2,"dy":6,"color":"#222"},"encoding":{"text":{"field":"t"},"x":{"datum":0.4,"type":"quantitative","scale":{"domain":[0,1.25],"nice":false},"axis":{"values":[0,0.25,0.5,0.75,1,1.25],"tickCount":10,"labelOverlap":false,"labelFlush":false,"labelExpr":"datum.value == 0 ? '0' : format(datum.value, '.2f')"}},"y":{"datum":1.5,"type":"quantitative","scale":{"domain":[0,1.5]},"axis":{"values":[0,0.5,1,1.5],"tickCount":10,"labelOverlap":false,"labelFlush":false,"labelAngle":-90,"labelExpr":"datum.value == 0 ? '0' : format(datum.value, '.1f')"}}}},
{"data":{"values":[{"t":"50"}]},"mark":{"type":"text","fontSize":7,"align":"left","baseline":"middle","dx":2,"dy":9,"color":"#222"},"encoding":{"text":{"field":"t"},"x":{"datum":0.4,"type":"quantitative","scale":{"domain":[0,1.25],"nice":false},"axis":{"values":[0,0.25,0.5,0.75,1,1.25],"tickCount":10,"labelOverlap":false,"labelFlush":false,"labelExpr":"datum.value == 0 ? '0' : format(datum.value, '.2f')"}},"y":{"datum":1.5,"type":"quantitative","scale":{"domain":[0,1.5]},"axis":{"values":[0,0.5,1,1.5],"tickCount":10,"labelOverlap":false,"labelFlush":false,"labelAngle":-90,"labelExpr":"datum.value == 0 ? '0' : format(datum.value, '.1f')"}}}}
]}
]}
]},
{"spacing":6,"vconcat":[
{"spacing":43,"hconcat":[
{"width":273,"height":170,"data":{"name":"tPla"},"layer":[
{"transform":[{"filter":"datum.r > 0"},{"fold":["c1","c2","c3","c4","c5","c6","c7"],"as":["col","txt"]}],"mark":{"type":"rect","fill":"white","stroke":"#8c8c8c","strokeWidth":1},"encoding":{"x":{"field":"col","type":"nominal","axis":null,"scale":{"type":"band","paddingInner":0,"paddingOuter":0}},"y":{"field":"r","type":"ordinal","axis":null,"scale":{"type":"band","paddingInner":0,"paddingOuter":0}}}},
{"transform":[{"filter":"datum.r == 0"}],"mark":{"type":"rect","fill":"white","stroke":"#8c8c8c","strokeWidth":1},"encoding":{"y":{"field":"r","type":"ordinal","axis":null}}},
{"transform":[{"filter":"datum.r == 0"}],"mark":{"type":"text","font":"Liberation Serif","fontSize":9.5,"fontWeight":"bold","color":"#222"},"encoding":{"x":{"datum":"c4","type":"nominal"},"y":{"field":"r","type":"ordinal"},"text":{"field":"c1"}}},
{"transform":[{"filter":"datum.r == 1"},{"fold":["c1","c3","c4","c7"],"as":["col","txt"]}],"mark":{"type":"text","font":"Liberation Serif","fontSize":9,"color":"#333"},"encoding":{"x":{"field":"col","type":"nominal"},"y":{"field":"r","type":"ordinal"},"text":{"field":"txt"}}},
{"transform":[{"filter":"datum.r == 1"},{"fold":["c2","c6"],"as":["col","txt"]}],"mark":{"type":"text","font":"Liberation Serif","fontSize":9,"lineBreak":"\n","lineHeight":11,"dy":-5.5,"color":"#333"},"encoding":{"x":{"field":"col","type":"nominal"},"y":{"field":"r","type":"ordinal"},"text":{"field":"txt"}}},
{"transform":[{"filter":"datum.r == 1"}],"mark":{"type":"text","font":"Liberation Serif","fontSize":6,"lineBreak":"\n","lineHeight":7.5,"dy":-7.5,"color":"#333"},"encoding":{"x":{"datum":"c5","type":"nominal"},"y":{"field":"r","type":"ordinal"},"text":{"field":"c5"}}},
{"transform":[{"filter":"datum.r > 1"},{"fold":["c1","c2","c3","c5","c6","c7"],"as":["col","txt"]}],"mark":{"type":"text","font":"Liberation Serif","fontSize":9,"color":"#333"},"encoding":{"x":{"field":"col","type":"nominal"},"y":{"field":"r","type":"ordinal"},"text":{"field":"txt"}}},
{"transform":[{"filter":"datum.r > 1"}],"mark":{"type":"text","font":"Liberation Serif","fontSize":9,"lineBreak":"\n","lineHeight":11,"dy":-5.5,"color":"#333"},"encoding":{"x":{"datum":"c4","type":"nominal"},"y":{"field":"r","type":"ordinal"},"text":{"field":"c4"}}}
]},
{"width":273,"height":181,"data":{"name":"tPro"},"layer":[
{"transform":[{"filter":"datum.r > 0"},{"fold":["c1","c2","c3","c4","c5","c6","c7"],"as":["col","txt"]}],"mark":{"type":"rect","fill":"white","stroke":"#8c8c8c","strokeWidth":1},"encoding":{"x":{"field":"col","type":"nominal","axis":null,"scale":{"type":"band","paddingInner":0,"paddingOuter":0}},"y":{"field":"r","type":"ordinal","axis":null,"scale":{"type":"band","paddingInner":0,"paddingOuter":0}}}},
{"transform":[{"filter":"datum.r == 0"}],"mark":{"type":"rect","fill":"white","stroke":"#8c8c8c","strokeWidth":1},"encoding":{"y":{"field":"r","type":"ordinal","axis":null}}},
{"transform":[{"filter":"datum.r == 0"}],"mark":{"type":"text","font":"Liberation Serif","fontSize":9.5,"fontWeight":"bold","color":"#222"},"encoding":{"x":{"datum":"c4","type":"nominal"},"y":{"field":"r","type":"ordinal"},"text":{"field":"c1"}}},
{"transform":[{"filter":"datum.r == 1"},{"fold":["c3","c4","c7"],"as":["col","txt"]}],"mark":{"type":"text","font":"Liberation Serif","fontSize":9,"color":"#333"},"encoding":{"x":{"field":"col","type":"nominal"},"y":{"field":"r","type":"ordinal"},"text":{"field":"txt"}}},
{"transform":[{"filter":"datum.r == 1"}],"mark":{"type":"text","font":"Liberation Serif","fontSize":9,"dy":-4,"color":"#333"},"encoding":{"x":{"datum":"c1","type":"nominal"},"y":{"field":"r","type":"ordinal"},"text":{"field":"c1"}}},
{"transform":[{"filter":"datum.r == 1"}],"mark":{"type":"text","font":"Liberation Serif","fontSize":6.5,"dy":6,"color":"#333"},"encoding":{"x":{"datum":"c1","type":"nominal"},"y":{"field":"r","type":"ordinal"},"text":{"field":"u"}}},
{"transform":[{"filter":"datum.r == 1"},{"fold":["c2","c6"],"as":["col","txt"]}],"mark":{"type":"text","font":"Liberation Serif","fontSize":9,"lineBreak":"\n","lineHeight":11,"dy":-5.5,"color":"#333"},"encoding":{"x":{"field":"col","type":"nominal"},"y":{"field":"r","type":"ordinal"},"text":{"field":"txt"}}},
{"transform":[{"filter":"datum.r == 1"}],"mark":{"type":"text","font":"Liberation Serif","fontSize":6,"lineBreak":"\n","lineHeight":7.5,"dy":-7.5,"color":"#333"},"encoding":{"x":{"datum":"c5","type":"nominal"},"y":{"field":"r","type":"ordinal"},"text":{"field":"c5"}}},
{"transform":[{"filter":"datum.r > 1"},{"fold":["c1","c2","c3","c5","c6","c7"],"as":["col","txt"]}],"mark":{"type":"text","font":"Liberation Serif","fontSize":9,"color":"#333"},"encoding":{"x":{"field":"col","type":"nominal"},"y":{"field":"r","type":"ordinal"},"text":{"field":"txt"},"fontWeight":{"condition":{"test":"datum.c1 == '0.59(15)'","value":"bold"},"value":"normal"}}},
{"transform":[{"filter":"datum.r > 1 && datum.c4 != '-'"}],"mark":{"type":"text","font":"Liberation Serif","fontSize":9,"lineBreak":"\n","lineHeight":11,"dy":-5.5,"color":"#333"},"encoding":{"x":{"datum":"c4","type":"nominal"},"y":{"field":"r","type":"ordinal"},"text":{"field":"c4"},"fontWeight":{"condition":{"test":"datum.c1 == '0.59(15)'","value":"bold"},"value":"normal"}}},
{"transform":[{"filter":"datum.r > 1 && datum.c4 == '-'"}],"mark":{"type":"text","font":"Liberation Serif","fontSize":9,"color":"#333"},"encoding":{"x":{"datum":"c4","type":"nominal"},"y":{"field":"r","type":"ordinal"},"text":{"field":"c4"}}}
]}
]},
{"spacing":43,"hconcat":[
{"width":273,"height":169,"data":{"name":"tMid"},"layer":[
{"transform":[{"filter":"datum.r > 0"},{"fold":["c1","c2","c3","c4","c5","c6","c7"],"as":["col","txt"]}],"mark":{"type":"rect","fill":"white","stroke":"#8c8c8c","strokeWidth":1},"encoding":{"x":{"field":"col","type":"nominal","axis":null,"scale":{"type":"band","paddingInner":0,"paddingOuter":0}},"y":{"field":"r","type":"ordinal","axis":null,"scale":{"type":"band","paddingInner":0,"paddingOuter":0}}}},
{"transform":[{"filter":"datum.r == 0"}],"mark":{"type":"rect","fill":"white","stroke":"#8c8c8c","strokeWidth":1},"encoding":{"y":{"field":"r","type":"ordinal","axis":null}}},
{"transform":[{"filter":"datum.r == 0"}],"mark":{"type":"text","font":"Liberation Serif","fontSize":9.5,"fontWeight":"bold","color":"#222"},"encoding":{"x":{"datum":"c4","type":"nominal"},"y":{"field":"r","type":"ordinal"},"text":{"field":"c1"}}},
{"transform":[{"filter":"datum.r == 1"},{"fold":["c3","c4","c7"],"as":["col","txt"]}],"mark":{"type":"text","font":"Liberation Serif","fontSize":9,"color":"#333"},"encoding":{"x":{"field":"col","type":"nominal"},"y":{"field":"r","type":"ordinal"},"text":{"field":"txt"}}},
{"transform":[{"filter":"datum.r == 1"}],"mark":{"type":"text","font":"Liberation Serif","fontSize":9,"dy":-4,"color":"#333"},"encoding":{"x":{"datum":"c1","type":"nominal"},"y":{"field":"r","type":"ordinal"},"text":{"field":"c1"}}},
{"transform":[{"filter":"datum.r == 1"}],"mark":{"type":"text","font":"Liberation Serif","fontSize":6.5,"dy":6,"color":"#333"},"encoding":{"x":{"datum":"c1","type":"nominal"},"y":{"field":"r","type":"ordinal"},"text":{"field":"u"}}},
{"transform":[{"filter":"datum.r == 1"},{"fold":["c2","c6"],"as":["col","txt"]}],"mark":{"type":"text","font":"Liberation Serif","fontSize":9,"lineBreak":"\n","lineHeight":11,"dy":-5.5,"color":"#333"},"encoding":{"x":{"field":"col","type":"nominal"},"y":{"field":"r","type":"ordinal"},"text":{"field":"txt"}}},
{"transform":[{"filter":"datum.r == 1"}],"mark":{"type":"text","font":"Liberation Serif","fontSize":6,"lineBreak":"\n","lineHeight":7.5,"dy":-7.5,"color":"#333"},"encoding":{"x":{"datum":"c5","type":"nominal"},"y":{"field":"r","type":"ordinal"},"text":{"field":"c5"}}},
{"transform":[{"filter":"datum.r > 1"},{"fold":["c1","c2","c3","c5","c6","c7"],"as":["col","txt"]}],"mark":{"type":"text","font":"Liberation Serif","fontSize":9,"color":"#333"},"encoding":{"x":{"field":"col","type":"nominal"},"y":{"field":"r","type":"ordinal"},"text":{"field":"txt"},"fontWeight":{"condition":{"test":"datum.c1 == '31.7(13)'","value":"bold"},"value":"normal"}}},
{"transform":[{"filter":"datum.r > 1"}],"mark":{"type":"text","font":"Liberation Serif","fontSize":9,"lineBreak":"\n","lineHeight":11,"dy":-5.5,"color":"#333"},"encoding":{"x":{"datum":"c4","type":"nominal"},"y":{"field":"r","type":"ordinal"},"text":{"field":"c4"},"fontWeight":{"condition":{"test":"datum.c1 == '31.7(13)'","value":"bold"},"value":"normal"}}}
]},
{"width":273,"height":202,"data":{"name":"tDex"},"layer":[
{"transform":[{"filter":"datum.r > 0"},{"fold":["c1","c2","c3","c4","c5","c6","c7"],"as":["col","txt"]}],"mark":{"type":"rect","fill":"white","stroke":"#8c8c8c","strokeWidth":1},"encoding":{"x":{"field":"col","type":"nominal","axis":null,"scale":{"type":"band","paddingInner":0,"paddingOuter":0}},"y":{"field":"r","type":"ordinal","axis":null,"scale":{"type":"band","paddingInner":0,"paddingOuter":0}}}},
{"transform":[{"filter":"datum.r == 0"}],"mark":{"type":"rect","fill":"white","stroke":"#8c8c8c","strokeWidth":1},"encoding":{"y":{"field":"r","type":"ordinal","axis":null}}},
{"transform":[{"filter":"datum.r == 0"}],"mark":{"type":"text","font":"Liberation Serif","fontSize":9.5,"fontWeight":"bold","color":"#222"},"encoding":{"x":{"datum":"c4","type":"nominal"},"y":{"field":"r","type":"ordinal"},"text":{"field":"c1"}}},
{"transform":[{"filter":"datum.r == 1"},{"fold":["c3","c4","c7"],"as":["col","txt"]}],"mark":{"type":"text","font":"Liberation Serif","fontSize":9,"color":"#333"},"encoding":{"x":{"field":"col","type":"nominal"},"y":{"field":"r","type":"ordinal"},"text":{"field":"txt"}}},
{"transform":[{"filter":"datum.r == 1"}],"mark":{"type":"text","font":"Liberation Serif","fontSize":9,"dy":-4,"color":"#333"},"encoding":{"x":{"datum":"c1","type":"nominal"},"y":{"field":"r","type":"ordinal"},"text":{"field":"c1"}}},
{"transform":[{"filter":"datum.r == 1"}],"mark":{"type":"text","font":"Liberation Serif","fontSize":6.5,"dy":6,"color":"#333"},"encoding":{"x":{"datum":"c1","type":"nominal"},"y":{"field":"r","type":"ordinal"},"text":{"field":"u"}}},
{"transform":[{"filter":"datum.r == 1"},{"fold":["c2","c6"],"as":["col","txt"]}],"mark":{"type":"text","font":"Liberation Serif","fontSize":9,"lineBreak":"\n","lineHeight":11,"dy":-5.5,"color":"#333"},"encoding":{"x":{"field":"col","type":"nominal"},"y":{"field":"r","type":"ordinal"},"text":{"field":"txt"}}},
{"transform":[{"filter":"datum.r == 1"}],"mark":{"type":"text","font":"Liberation Serif","fontSize":6,"lineBreak":"\n","lineHeight":7.5,"dy":-7.5,"color":"#333"},"encoding":{"x":{"datum":"c5","type":"nominal"},"y":{"field":"r","type":"ordinal"},"text":{"field":"c5"}}},
{"transform":[{"filter":"datum.r > 1"},{"fold":["c1","c2","c3","c5","c6","c7"],"as":["col","txt"]}],"mark":{"type":"text","font":"Liberation Serif","fontSize":9,"color":"#333"},"encoding":{"x":{"field":"col","type":"nominal"},"y":{"field":"r","type":"ordinal"},"text":{"field":"txt"}}},
{"transform":[{"filter":"datum.r > 1 && datum.c4 != '-'"}],"mark":{"type":"text","font":"Liberation Serif","fontSize":9,"lineBreak":"\n","lineHeight":11,"dy":-5.5,"color":"#333"},"encoding":{"x":{"datum":"c4","type":"nominal"},"y":{"field":"r","type":"ordinal"},"text":{"field":"c4"}}},
{"transform":[{"filter":"datum.r > 1 && datum.c4 == '-'"}],"mark":{"type":"text","font":"Liberation Serif","fontSize":9,"color":"#333"},"encoding":{"x":{"datum":"c4","type":"nominal"},"y":{"field":"r","type":"ordinal"},"text":{"field":"c4"}}}
]}
]}
]}
],
"config":{
"font":"Liberation Sans",
"view":{"stroke":null},
"title":{"fontSize":14,"fontWeight":"bold","color":"black","anchor":"middle","frame":"group","offset":8},
"axis":{"grid":false,"domainColor":"black","domainWidth":1.4,"tickColor":"black","tickWidth":1.2,"tickSize":3,"labelFontSize":9,"labelColor":"#222","titleFontSize":9.5,"titleFontWeight":"normal","titleColor":"#222","labelPadding":1,"titlePadding":1,"labelOverlap":false,"labelBound":false}
}
}
